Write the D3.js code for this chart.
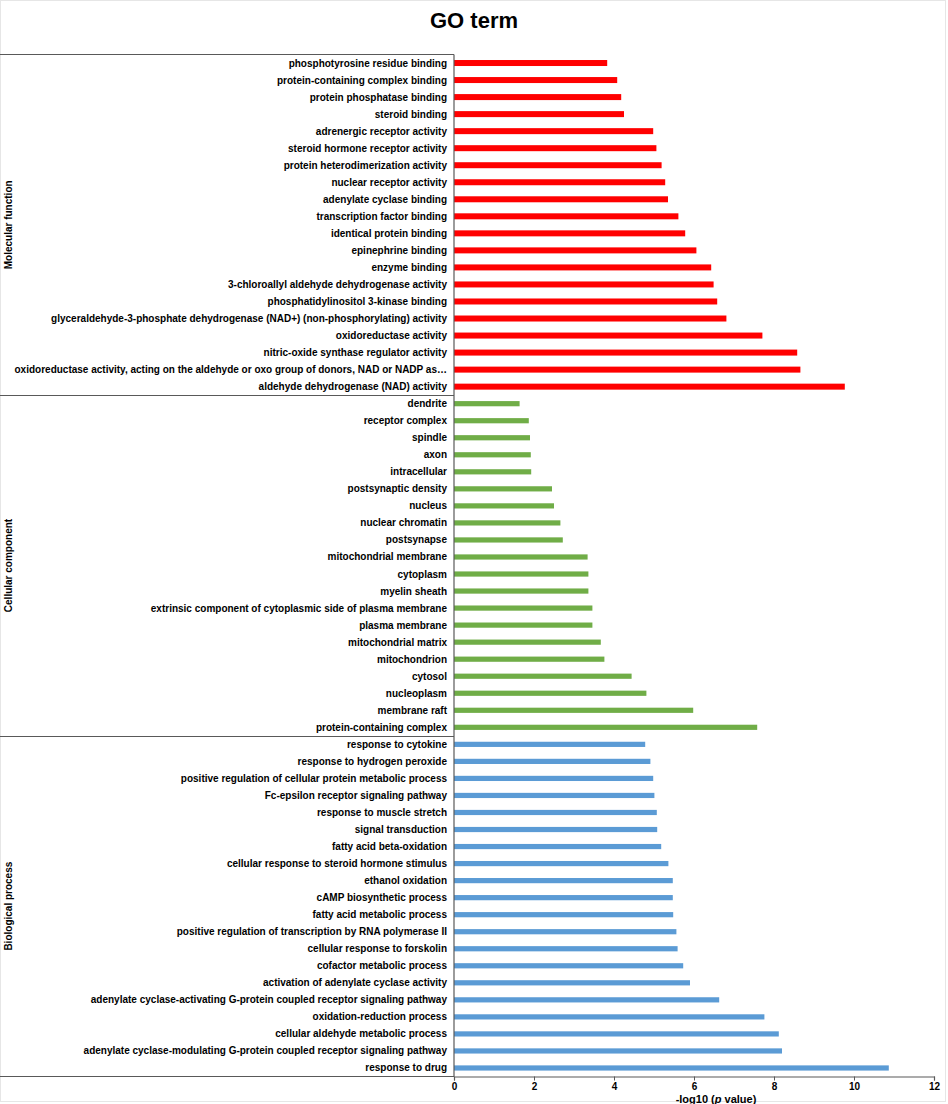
<!DOCTYPE html>
<html>
<head>
<meta charset="utf-8">
<script src="https://cdn.jsdelivr.net/npm/d3@7"></script>
<style>
html,body{margin:0;padding:0;background:#fff;}
text{font-family:"Liberation Sans",Arial,sans-serif;}
</style>
</head>
<body>
<svg id="chart" width="948" height="1104"></svg>
<script>
// ---- data ----
const groups = ["Molecular function", "Cellular component", "Biological process"];
const groupColors = ["#FF0000", "#70AD47", "#5B9BD5"];

const mfTerms = [
  "phosphotyrosine residue binding",
  "protein-containing complex binding",
  "protein phosphatase binding",
  "steroid binding",
  "adrenergic receptor activity",
  "steroid hormone receptor activity",
  "protein heterodimerization activity",
  "nuclear receptor activity",
  "adenylate cyclase binding",
  "transcription factor binding",
  "identical protein binding",
  "epinephrine binding",
  "enzyme binding",
  "3-chloroallyl aldehyde dehydrogenase activity",
  "phosphatidylinositol 3-kinase binding",
  "glyceraldehyde-3-phosphate dehydrogenase (NAD+) (non-phosphorylating) activity",
  "oxidoreductase activity",
  "nitric-oxide synthase regulator activity",
  "oxidoreductase activity, acting on the aldehyde or oxo group of donors, NAD or NADP as…",
  "aldehyde dehydrogenase (NAD) activity"
];
const mfValues = [3.83, 4.08, 4.18, 4.25, 4.98, 5.06, 5.19, 5.28, 5.35, 5.61,
                  5.78, 6.06, 6.43, 6.49, 6.58, 6.81, 7.71, 8.58, 8.66, 9.77];

const ccTerms = [
  "dendrite",
  "receptor complex",
  "spindle",
  "axon",
  "intracellular",
  "postsynaptic density",
  "nucleus",
  "nuclear chromatin",
  "postsynapse",
  "mitochondrial membrane",
  "cytoplasm",
  "myelin sheath",
  "extrinsic component of cytoplasmic side of plasma membrane",
  "plasma membrane",
  "mitochondrial matrix",
  "mitochondrion",
  "cytosol",
  "nucleoplasm",
  "membrane raft",
  "protein-containing complex"
];
const ccValues = [1.64, 1.87, 1.90, 1.92, 1.93, 2.45, 2.50, 2.66, 2.72, 3.34,
                  3.36, 3.36, 3.46, 3.46, 3.67, 3.76, 4.44, 4.81, 5.98, 7.58];

const bpTerms = [
  "response to cytokine",
  "response to hydrogen peroxide",
  "positive regulation of cellular protein metabolic process",
  "Fc-epsilon receptor signaling pathway",
  "response to muscle stretch",
  "signal transduction",
  "fatty acid beta-oxidation",
  "cellular response to steroid hormone stimulus",
  "ethanol oxidation",
  "cAMP biosynthetic process",
  "fatty acid metabolic process",
  "positive regulation of transcription by RNA polymerase II",
  "cellular response to forskolin",
  "cofactor metabolic process",
  "activation of adenylate cyclase activity",
  "adenylate cyclase-activating G-protein coupled receptor signaling pathway",
  "oxidation-reduction process",
  "cellular aldehyde metabolic process",
  "adenylate cyclase-modulating G-protein coupled receptor signaling pathway",
  "response to drug"
];
const bpValues = [4.78, 4.91, 4.98, 5.01, 5.07, 5.08, 5.18, 5.36, 5.47, 5.47,
                  5.48, 5.56, 5.59, 5.73, 5.90, 6.63, 7.76, 8.12, 8.20, 10.87];

const xTicks = [0, 2, 4, 6, 8, 10, 12];
const titleText = "GO term";

(function () {
  // ---- build rows ----
  const termLists = [mfTerms, ccTerms, bpTerms];
  const valueLists = [mfValues, ccValues, bpValues];
  const rows = [];
  termLists.forEach((terms, gi) => {
    terms.forEach((t, i) => rows.push({key: gi + "|" + t, term: t, value: valueLists[gi][i], group: gi}));
  });

  // ---- layout ----
  const svg = d3.select("#chart");
  const W = 948, H = 1104;
  const pLeft = 454, pRight = 934, pTop = 54.5, pBottom = 1076.5;
  const axisColor = "#595959";

  svg.append("rect").attr("x", 0.5).attr("y", 0.5).attr("width", W - 3).attr("height", H - 3)
    .attr("fill", "#fff").attr("stroke", "#e6e6e6").attr("stroke-width", 1);

  const x = d3.scaleLinear().domain([0, 12]).range([pLeft, pRight]);
  const y = d3.scaleBand().domain(rows.map(d => d.key)).range([pTop, pBottom]).padding(0);

  // title
  svg.append("text").attr("x", 474).attr("y", 28).attr("text-anchor", "middle")
    .style("font-size", "22px").style("font-weight", "bold").attr("fill", "#000").text(titleText);

  // bars
  svg.append("g").selectAll("rect").data(rows).join("rect")
    .attr("x", x(0))
    .attr("y", d => y(d.key) + y.bandwidth() / 2 - (d.group === 0 ? 3 : 2.6))
    .attr("height", d => d.group === 0 ? 6 : 5.2)
    .attr("width", d => x(d.value) - x(0))
    .attr("fill", d => groupColors[d.group]);

  // term labels
  svg.append("g").selectAll("text").data(rows).join("text")
    .attr("x", pLeft - 7)
    .attr("y", d => y(d.key) + y.bandwidth() / 2)
    .attr("dy", "0.35em")
    .attr("text-anchor", "end")
    .style("font-size", "10px").style("font-weight", "bold").attr("fill", "#000")
    .text(d => d.term);

  // group separators and labels
  const groupBounds = groups.map((g, gi) => {
    const gr = rows.filter(r => r.group === gi);
    return {name: g, y0: y(gr[0].key), y1: y(gr[gr.length - 1].key) + y.bandwidth()};
  });
  svg.append("g").selectAll("line").data(groupBounds).join("line")
    .attr("x1", 0).attr("x2", pLeft)
    .attr("y1", d => Math.round(d.y0) + 0.5).attr("y2", d => Math.round(d.y0) + 0.5)
    .attr("stroke", axisColor).attr("stroke-width", 1.2);

  svg.append("g").selectAll("text").data(groupBounds).join("text")
    .attr("transform", d => `translate(12,${(d.y0 + d.y1) / 2}) rotate(-90)`)
    .attr("text-anchor", "middle")
    .style("font-size", "10px").style("font-weight", "bold").attr("fill", "#000")
    .text(d => d.name);

  // vertical axis line
  svg.append("line").attr("x1", pLeft).attr("x2", pLeft).attr("y1", pTop).attr("y2", pBottom)
    .attr("stroke", axisColor).attr("stroke-width", 1.2);

  // bottom line spanning labels area
  svg.append("line").attr("x1", 0).attr("x2", pLeft).attr("y1", pBottom).attr("y2", pBottom)
    .attr("stroke", axisColor).attr("stroke-width", 1.2);

  // x axis
  const xAxis = d3.axisBottom(x).tickValues(xTicks).tickSize(4).tickSizeOuter(4).tickPadding(2)
    .tickFormat(d3.format("d"));
  const gx = svg.append("g").attr("transform", `translate(0,${pBottom})`).call(xAxis);
  gx.select(".domain").attr("stroke", axisColor).attr("stroke-width", 1.2);
  gx.selectAll(".tick line").attr("stroke", axisColor);
  gx.selectAll(".tick text").style("font-size", "10px").style("font-weight", "bold")
    .style("font-family", "'Liberation Sans', Arial, sans-serif").attr("fill", "#000");

  // x axis title
  const xt = svg.append("text").attr("x", 716).attr("y", 1102.5).attr("text-anchor", "middle")
    .style("font-size", "11px").style("font-weight", "bold").attr("fill", "#000");
  xt.append("tspan").text("-log10 (");
  xt.append("tspan").style("font-style", "italic").text("p");
  xt.append("tspan").text(" value)");
})();
</script>
</body>
</html>
